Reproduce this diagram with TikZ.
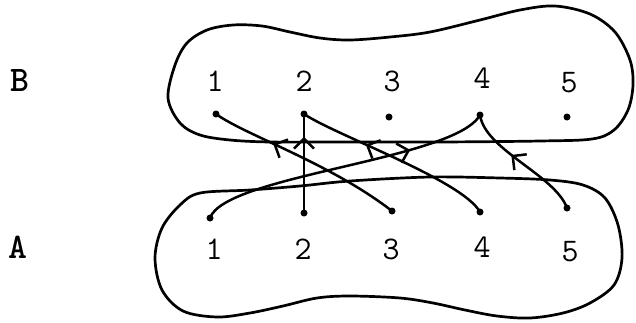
\documentclass[tikz,border=0pt]{standalone}
\usepackage{fontspec}
\usetikzlibrary{arrows.meta,decorations.markings}
\tikzset{
  blob/.style={line width=2.7pt, line join=round},
  link/.style={line width=2.5pt, line cap=round},
  dotnode/.style={circle, fill=black, inner sep=0pt, minimum size=7pt},
  digit/.style={font=\fontsize{33}{33}\selectfont\ttfamily, inner sep=0pt},
  setname/.style={font=\fontsize{36}{36}\selectfont\ttfamily\bfseries, inner sep=0pt},
  midarrow/.style={postaction={decorate,decoration={markings,
     mark=at position #1 with {\arrow{Straight Barb[length=10pt,width=20pt,line width=2.5pt]}}}}}
}
\begin{document}
\begin{tikzpicture}[x=1pt,y=-1pt]
\useasboundingbox (0,0) rectangle (636,322);
% set names
\node[setname] (Bname) at (20,80) {B};
\node[setname] (Aname) at (18,247) {A};
% blobs
\draw[blob] plot[smooth cycle, tension=0.55] coordinates {
 (168,98) (175,65) (187,43) (207,30) (233,25) (262,26) (290,32) (320,38)
 (350,40) (390,37) (430,32) (480,20) (520,10) (555,6) (590,14) (615,32)
 (630,60) (633,85) (628,110) (614,130) (592,139) (540,141) (440,142)
 (340,142) (270,142) (230,140) (200,135) (180,123)};
\draw[blob] plot[smooth cycle, tension=0.55] coordinates {
 (200,193) (250,190) (300,186) (350,181) (430,177) (500,178) (550,180)
 (583,185) (605,198) (618,225) (622,258) (614,285) (590,303) (563,313)
 (530,318) (497,316) (465,310) (433,303) (400,298) (350,296) (317,298)
 (283,306) (250,313) (217,317) (183,311) (162,290) (155,258) (162,228)
 (180,205)};
% labels B
\node[digit] (lb1) at (215,81) {1};
\node[digit] (lb2) at (304,81) {2};
\node[digit] (lb3) at (392,81) {3};
\node[digit] (lb4) at (482,78) {4};
\node[digit] (lb5) at (569,83) {5};
% labels A
\node[digit] (la1) at (214,249) {1};
\node[digit] (la2) at (303,249) {2};
\node[digit] (la3) at (391,249) {3};
\node[digit] (la4) at (482,247) {4};
\node[digit] (la5) at (570,252) {5};
% dots
\node[dotnode] (B1) at (216,114) {};
\node[dotnode] (B2) at (304,114) {};
\node[dotnode] (B3) at (389,117) {};
\node[dotnode] (B4) at (480,115) {};
\node[dotnode] (B5) at (567,117) {};
\node[dotnode] (A1) at (210,218) {};
\node[dotnode] (A2) at (304,213) {};
\node[dotnode] (A3) at (392,211) {};
\node[dotnode] (A4) at (480,212) {};
\node[dotnode] (A5) at (567,208) {};
% connectors
\draw[link, midarrow=0.68] (A3.center) .. controls (330,163) and (245,135) .. (B1.center);
\draw[link, midarrow=0.66] (A4.center) .. controls (462,180) and (335,135) .. (B2.center);
\draw[link, midarrow=0.77] (A2.center) -- (B2.center);
\draw[link, midarrow=0.73] (A1.center) .. controls (225,175) and (455,160) .. (B4.center);
\draw[link, midarrow=0.6] (A5.center) .. controls (555,175) and (485,150) .. (B4.center);
\end{tikzpicture}
\end{document}
